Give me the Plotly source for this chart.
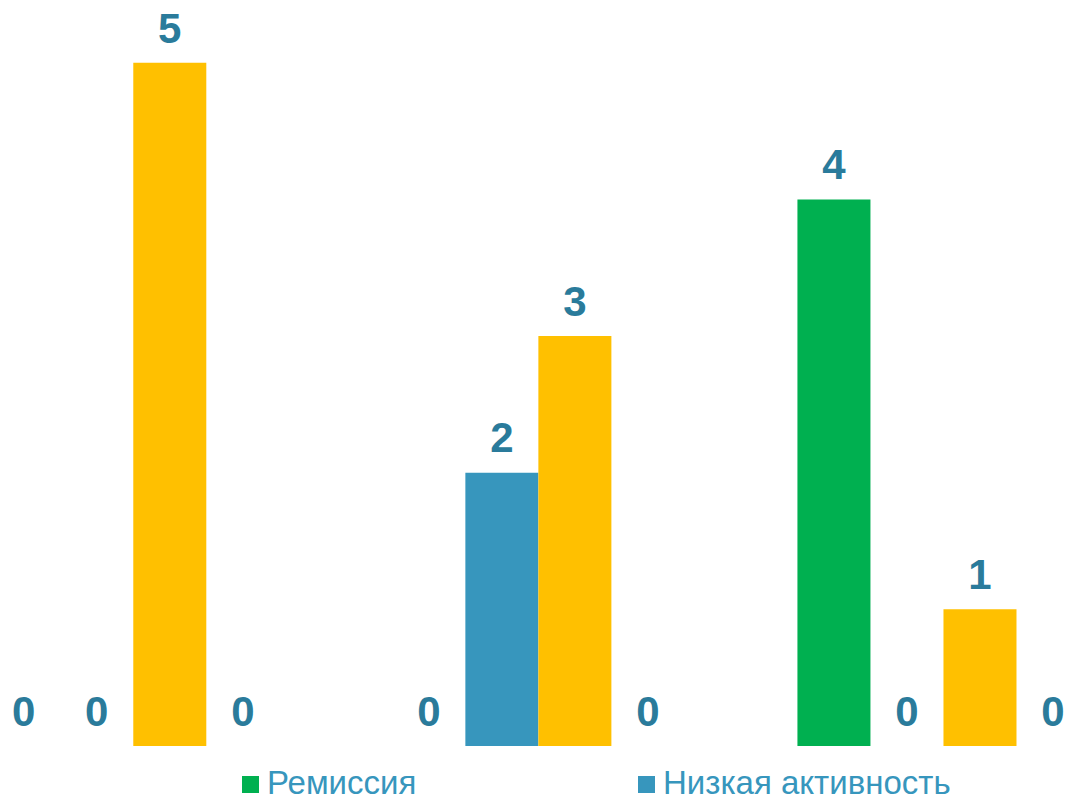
import plotly.graph_objects as go

groups = ["Группа 1", "Группа 2", "Группа 3"]
series_names = ["Ремиссия", "Низкая активность", "Умеренная активность", "Высокая активность"]
remission = [0, 0, 4]
low_activity = [0, 2, 0]
moderate_activity = [5, 3, 1]
high_activity = [0, 0, 0]
colors = ["#00B050", "#3796BD", "#FFC000", "#C00000"]
legend_series = ["Ремиссия", "Низкая активность"]

values = [remission, low_activity, moderate_activity, high_activity]

W, H = 1065, 801
MB = 55
plot_h = H - MB

fig = go.Figure()
for i, (name, vals, col) in enumerate(zip(series_names, values, colors)):
    fig.add_trace(go.Bar(
        x=groups, y=vals, name=name, marker=dict(color=col, line=dict(width=0)),
        offsetgroup=str(i), showlegend=False, hoverinfo="skip",
    ))
for i, (name, vals) in enumerate(zip(series_names, values)):
    fig.add_trace(go.Scatter(
        x=groups, y=vals, name=name, mode="markers+text",
        offsetgroup=str(i), showlegend=False,
        marker=dict(size=14, opacity=0),
        text=[f"<b>{v}</b>" for v in vals], textposition="top center",
        textfont=dict(family="Liberation Sans, Arial", size=42, color="#2A7B9B"),
        cliponaxis=False,
    ))

# legend drawn as marker squares + text
legend_x = [242, 638]
for name, lx in zip(legend_series, legend_x):
    col = colors[series_names.index(name)]
    fig.add_shape(type="rect", xref="paper", yref="paper",
                  x0=lx / W, x1=(lx + 17) / W,
                  y0=(plot_h - 793) / plot_h, y1=(plot_h - 776) / plot_h,
                  fillcolor=col, line=dict(width=0))
    fig.add_annotation(text=name, xref="paper", yref="paper",
                       x=(lx + 23) / W, y=(plot_h - 783) / plot_h,
                       xanchor="left", yanchor="middle", showarrow=False,
                       font=dict(family="Liberation Sans, Arial", size=33, color="#3796BD"))

fig.update_layout(
    width=W, height=H,
    margin=dict(l=0, r=0, t=0, b=MB),
    plot_bgcolor="white", paper_bgcolor="white",
    barmode="group", bargap=0.279, bargroupgap=0,
    scattermode="group", scattergap=0.279,
    showlegend=False,
    xaxis=dict(range=[-0.329, 2.300], showticklabels=False, showgrid=False, zeroline=False,
               showline=False, ticks=""),
    yaxis=dict(range=[0, 5.46], showticklabels=False, showgrid=False,
               zeroline=False, showline=False, ticks=""),
)
fig.write_html("out.html")
